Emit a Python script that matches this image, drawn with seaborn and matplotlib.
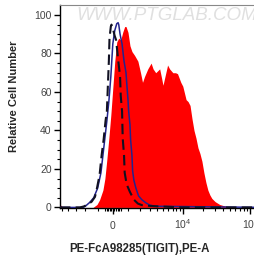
import numpy as np
import pandas as pd
import matplotlib
matplotlib.use('Agg')
import matplotlib.pyplot as plt
import seaborn as sns

# x values are display channel units of a biexponential (arcsinh) axis
red_x = [-0.80, -0.77, -0.74, -0.30, -0.24, -0.20, -0.15, -0.12, -0.09, -0.06, -0.03,
         0.00, 0.03, 0.06, 0.09, 0.12, 0.15, 0.18, 0.20, 0.23, 0.26, 0.29, 0.33, 0.38,
         0.42, 0.45, 0.48, 0.53, 0.58, 0.61, 0.65, 0.68, 0.71, 0.74, 0.76, 0.79, 0.83,
         0.86, 0.91, 0.95, 0.98, 1.03, 1.06, 1.11, 1.14, 1.17, 1.20, 1.23, 1.26, 1.29,
         1.32, 1.35, 1.38, 1.41, 1.44, 1.47, 1.50, 1.55, 1.62, 1.70, 1.80]
red_y = [1.5, 0.5, 0.0, 0.0, 1.5, 4, 9, 15, 25, 36, 48,
         62, 76, 86, 88, 87, 91, 94, 94, 91, 84, 81, 79, 76,
         70, 65, 68, 72, 75, 72, 70, 71, 72, 67, 63.5, 68, 74,
         72, 70, 70, 69.5, 65, 63, 56, 55, 53, 46, 40, 36, 31,
         28, 24, 18, 13, 9, 6.5, 4.7, 3, 1.5, 0.7, 0.0]

blue_x = [-0.80, -0.45, -0.41, -0.35, -0.29, -0.23, -0.18, -0.15, -0.09, -0.06, -0.03,
          0.00, 0.03, 0.06, 0.08, 0.09, 0.11, 0.14, 0.17, 0.20, 0.21, 0.23, 0.24, 0.26,
          0.27, 0.29, 0.30, 0.32, 0.35, 0.39, 0.44, 0.50, 0.56, 0.64, 2.30]
blue_y = [0, 0, 0.8, 2.6, 5, 10, 18, 27, 45, 55, 68,
          85, 92, 95.5, 96, 95, 90, 85, 76, 70, 65, 56, 50, 43,
          35, 27, 19, 14, 10, 6, 4, 2.4, 1.2, 0.6, 0.0]

iso_x = [-0.80, -0.50, -0.44, -0.38, -0.32, -0.27, -0.24, -0.20, -0.17, -0.14, -0.11,
         -0.09, -0.06, -0.05, -0.03, -0.02, 0.00, 0.03, 0.05, 0.08, 0.11, 0.12, 0.14,
         0.15, 0.17, 0.18, 0.21, 0.26, 0.32, 0.38, 0.44, 0.56, 0.71, 0.86, 1.02, 2.30]
iso_y = [0, 0, 0.5, 1.5, 3, 5.5, 10, 17, 27, 35, 45,
         50, 76, 88, 94, 95, 93, 89, 87, 77, 68, 58, 50,
         36, 27, 18, 12, 8, 4, 2, 1.2, 0.8, 0.5, 0.3, 0.0, 0.0]

x_tick_values = [0, 1e4, 1e5]
x_tick_labels = ['0', '$10^4$', '$10^5$']


def channel(v):
    return 0.446 * np.arcsinh(np.asarray(v, dtype=float) / 1867.0)


sns.set_style('ticks')
plt.rcParams['font.family'] = ['Liberation Sans', 'DejaVu Sans']
plt.rcParams['mathtext.fontset'] = 'custom'
plt.rcParams['mathtext.rm'] = 'Liberation Sans'
plt.rcParams['mathtext.default'] = 'regular'

fig = plt.figure(figsize=(2.55, 2.62), dpi=100)
ax = fig.add_axes([60 / 255, 1 - 208 / 262, 202 / 255, 203 / 262])

ax.text(0.08, 0.95, 'WWW.PTGLAB.COM', transform=ax.transAxes, fontsize=13.5,
        style='italic', color='#e0e0e0', va='center', ha='left', zorder=0)

ax.fill_between(red_x, red_y, 0, color='#ff0000', linewidth=0, zorder=2)
sns.lineplot(x=blue_x, y=blue_y, ax=ax, color='#23238e', linewidth=1.1, sort=False, zorder=3)
sns.lineplot(x=iso_x, y=iso_y, ax=ax, color='#111122', linewidth=1.5, sort=False, zorder=4)
ax.lines[-1].set_dashes([5, 2.5])

# ticks
ax.set_xticks(channel(x_tick_values))
ax.set_xticklabels(x_tick_labels)
minor_vals = [-5000, -4000, -3000, -2000, -1000, -500, -400, -300, -200, -100,
              100, 200, 300, 400, 500, 1000, 2000, 3000, 4000, 5000, 6000, 7000, 8000, 9000,
              2e4, 3e4, 4e4, 5e4, 6e4, 7e4, 8e4, 9e4]
ax.set_xticks(channel(minor_vals), minor=True)
ax.set_yticks([0, 20, 40, 60, 80, 100])
ax.set_yticks(np.arange(0, 105, 5), minor=True)

ax.set_xlim(-0.80, 2.26)
ax.set_ylim(-0.3, 105.2)

ax.tick_params(axis='both', which='major', length=4, width=1, color='black',
               labelsize=7.5, labelcolor='#444444')
ax.tick_params(axis='both', which='minor', length=2, width=0.8, color='black')
ax.tick_params(axis='y', which='major', pad=2)
ax.tick_params(axis='x', which='major', pad=11)
for lbl in ax.get_xticklabels():
    lbl.set_va('baseline')

for s in ['left', 'bottom']:
    ax.spines[s].set_color('black')
    ax.spines[s].set_linewidth(1)
ax.spines['top'].set_color('#888888')
ax.spines['top'].set_linewidth(0.8)
ax.spines['right'].set_visible(False)

ax.set_xlabel('PE-FcA98285(TIGIT),PE-A', fontsize=8.3, fontweight='bold')
ax.set_ylabel('Relative Cell Number', fontsize=8, fontweight='bold')
ax.xaxis.set_label_coords((139 - 60) / 202, -(249 - 208) / 203)
ax.yaxis.set_label_coords(-(60 - 14) / 202, (208 - 96) / 203)
ax.xaxis.label.set_va('center')
ax.yaxis.label.set_va('center')

fig.savefig('out.png', dpi=100)
